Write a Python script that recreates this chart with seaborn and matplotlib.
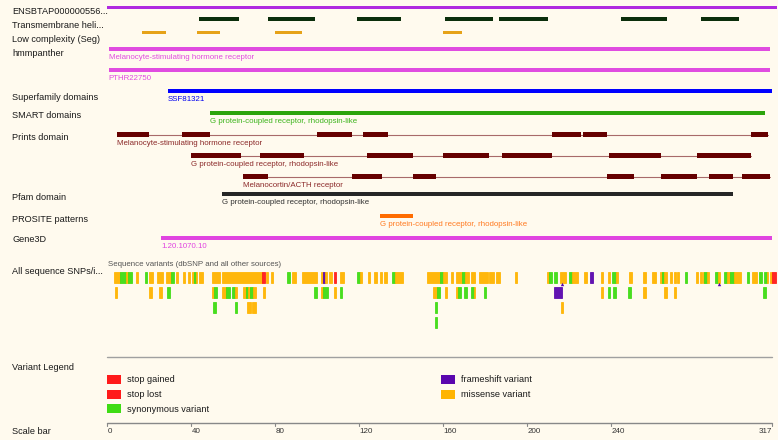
import matplotlib
matplotlib.use("Agg")
import matplotlib.pyplot as plt
from matplotlib.patches import Rectangle
import seaborn as sns

# ========== DATA (positions in residues) ==========
protein_len = 317
protein_name = "ENSBTAP000000556..."

tm_helices = [(44, 63), (77, 99), (119, 140), (161, 184), (187, 210), (245, 267), (283, 301)]
low_complexity = [(17, 28), (43, 54), (80, 93), (160, 169)]
hmmpanther = [(1, 316, "Melanocyte-stimulating hormone receptor"), (1, 316, "PTHR22750")]
superfamily = (29, 317, "SSF81321")
smart = (49, 313.5, "G protein-coupled receptor, rhodopsin-like")
prints_msh = [(5, 20), (36, 49), (100, 117), (122, 134), (212, 226), (227, 238), (307, 315)]
prints_gpcr = [(40, 64), (73, 94), (124, 146), (160, 182), (188, 212), (239, 264), (281, 307)]
prints_mc = [(65, 77), (117, 131), (146, 157), (238, 251), (264, 281), (287, 298), (302.5, 316)]
prints_names = ["Melanocyte-stimulating hormone receptor",
                "G protein-coupled receptor, rhodopsin-like",
                "Melanocortin/ACTH receptor"]
pfam = (55, 298, "G protein-coupled receptor, rhodopsin-like")
prosite = (130, 146, "G protein-coupled receptor, rhodopsin-like")
gene3d = (26, 317, "1.20.1070.10")

# variant segments: (start, end, kind)  M=missense S=synonymous G=stop gained F=frameshift
variants_row1 = [
    (3.5, 6.5, "M"), (6.5, 9, "S"), (9, 10, "M"), (10, 12, "S"), (14, 15, "M"), (18, 19, "S"),
    (20, 22, "M"), (24, 27, "M"), (28, 30.5, "M"), (30.5, 32, "S"), (33, 34, "M"),
    (36.5, 37.5, "M"), (38.7, 39.7, "M"), (40.6, 41.5, "M"), (41.5, 42.5, "S"), (42.5, 43, "M"),
    (44, 46, "M"), (50, 54, "M"), (55, 74, "M"), (74, 75.5, "G"), (76, 77, "M"), (78, 79, "M"),
    (86, 87.5, "S"), (88, 90, "M"), (93, 100, "M"), (102, 103, "M"), (103, 104, "F"),
    (104, 105, "M"), (106, 107.5, "M"), (108, 109, "G"), (111, 113, "M"), (119, 120.5, "S"),
    (120.5, 121.5, "M"), (124.5, 125.5, "M"), (127.5, 128.5, "M"), (130, 131, "M"),
    (132, 133.5, "M"), (136, 137.5, "S"), (137.5, 141, "M"), (152.5, 158.5, "M"),
    (158.5, 160, "S"), (160, 162, "M"), (164, 165, "M"), (166.5, 169, "M"), (169, 170.6, "S"),
    (170.6, 172.5, "M"), (173.5, 175.5, "M"), (177.5, 181.5, "M"), (182, 184.5, "M"),
    (185.5, 187.5, "M"), (194.5, 195.5, "M"), (209.5, 210.5, "M"), (210.5, 212, "S"),
    (213, 214.5, "S"), (216, 218.5, "M"), (220, 221.5, "S"), (221.5, 224.5, "M"),
    (227.5, 228.5, "M"), (230, 231.5, "F"), (235.5, 236.5, "M"), (238.5, 239.5, "M"),
    (240.5, 242.5, "S"), (242.5, 243.5, "M"), (248.5, 250, "M"), (255.5, 257, "M"),
    (259.5, 261.5, "M"), (263.5, 264.5, "M"), (264.5, 265.5, "S"), (265.5, 267, "M"),
    (268, 269, "M"), (270, 271, "M"), (271.5, 272.5, "M"), (275.5, 276.5, "S"),
    (280.5, 281.5, "M"), (282.5, 283.5, "M"), (284, 284.5, "M"), (284.5, 286, "S"),
    (286, 287, "M"), (289.5, 291, "S"), (291, 292, "M"), (294, 295.5, "S"), (295.5, 297, "M"),
    (297, 298.5, "S"), (298.5, 302, "M"), (305, 306, "S"), (307.5, 309.5, "M"),
    (310.5, 312, "S"), (313, 314.5, "S"), (314.5, 315, "M"), (316, 317, "M"), (317, 318.5, "G"),
]
variants_row2 = [
    (4, 5, "M"), (20, 21.5, "M"), (25, 26.5, "M"), (28.5, 30, "S"), (50, 51, "M"), (51, 52.5, "S"),
    (55, 57, "M"), (57, 58.5, "S"), (59.5, 61, "S"), (61, 62, "M"), (65, 66.5, "M"),
    (66.5, 67.5, "S"), (67.5, 68, "M"), (68, 69.5, "S"), (69.5, 71, "M"), (74.5, 75.5, "M"),
    (98.5, 100, "S"), (102, 103, "M"), (103, 105.5, "S"), (108, 109, "M"), (111, 112, "S"),
    (155.5, 157.5, "M"), (157.5, 158.5, "S"), (161, 162, "M"), (166.5, 167.5, "M"),
    (167.5, 168.5, "S"), (170, 171.5, "S"), (173.5, 175, "S"), (175, 175.5, "M"),
    (179.5, 180.5, "S"), (213, 217, "F"), (235.5, 236.5, "M"), (238.5, 239.5, "S"),
    (241, 242.5, "S"), (248, 249.5, "S"), (255.5, 257, "M"), (265.5, 267, "M"),
    (270, 271, "M"), (312.5, 314, "S"),
]
variants_row3 = [(50.5, 52, "S"), (61, 62, "S"), (67, 68.5, "M"), (69, 71, "M"),
                 (156.5, 157.5, "S"), (216.5, 217.5, "M")]
variants_row4 = [(156.5, 157.5, "S")]
insertions = [216.8, 291.6]

legend_left = [("stop gained", "G"), ("stop lost", "L"), ("synonymous variant", "S")]
legend_right = [("frameshift variant", "F"), ("missense variant", "M")]
scale_ticks = [0, 40, 80, 120, 160, 200, 240, 317]

# ========== STYLE ==========
variant_colors = {"M": "#ffb400", "S": "#3fdc14", "G": "#ff1a1a", "L": "#ff1a1a", "F": "#5a06ae"}
bg = "#fffaee"
sns.set_theme(style="white")
plt.rcParams["font.family"] = ["Liberation Sans", "DejaVu Sans"]

fig = plt.figure(figsize=(7.78, 4.40), dpi=100, facecolor=bg)
ax = fig.add_axes([0, 0, 1, 1])
ax.set_facecolor(bg)
# x in residues (0 at px 106.7, 2.1 px per residue), y in pixels
px0, ppr = 106.7, 2.1
ax.set_xlim(-px0 / ppr, (778 - px0) / ppr)
ax.set_ylim(440, 0)
ax.axis("off")

label_x = (12 - px0) / ppr
lab_fs = 6.6
feat_fs = 5.65


def track_label(y, text):
    ax.text(label_x, y, text, fontsize=lab_fs, color="#1a1a1a", va="center", ha="left")


def bars(spans, y, h, color):
    ax.broken_barh([(s, e - s) for s, e in spans], (y - h / 2, h), facecolors=color, lw=0,
                   zorder=3)


def feat_text(x, y, text, color):
    ax.text(x, y, text, fontsize=feat_fs, color=color, va="center", ha="left")


track_label(12, protein_name)
bars([(0, 319)], 7.5, 3.6, "#b02ae0")

track_label(25, "Transmembrane heli...")
bars(tm_helices, 19.3, 3.8, "#0b2e0b")

track_label(40, "Low complexity (Seg)")
bars(low_complexity, 32.3, 3.2, "#e6a218")

track_label(54, "hmmpanther")
for (s, e, name), y in zip(hmmpanther, [49.3, 70.3]):
    bars([(s, e)], y, 3.6, "#e04ce0")
    feat_text(s, y + 8, name, "#e04ce0")

track_label(97, "Superfamily domains")
bars([superfamily[:2]], 91, 3.6, "#0000ff")
feat_text(superfamily[0], 99.5, superfamily[2], "#0000ee")

track_label(116, "SMART domains")
bars([smart[:2]], 113.3, 3.6, "#2ca40c")
feat_text(smart[0], 121.5, smart[2], "#3cb41c")

track_label(138, "Prints domain")
for spans, y, name in zip([prints_msh, prints_gpcr, prints_mc], [135, 156, 177], prints_names):
    ax.plot([spans[0][0], spans[-1][1]], [y, y], color="#a86a6a", lw=0.8, zorder=2)
    bars(spans, y, 5, "#660000")
    feat_text(spans[0][0], y + 8.5, name, "#8c2a2a")

track_label(197, "Pfam domain")
bars([pfam[:2]], 194, 4.6, "#262626")
feat_text(pfam[0], 202.5, pfam[2], "#333333")

track_label(220, "PROSITE patterns")
bars([prosite[:2]], 215.7, 3.8, "#ff6c00")
feat_text(prosite[0], 224.5, prosite[2], "#ff7a20")

track_label(239, "Gene3D")
bars([gene3d[:2]], 238, 3.6, "#e044e0")
feat_text(gene3d[0], 246.5, gene3d[2], "#e044e0")

track_label(272, "All sequence SNPs/i...")
feat_text(0.5, 265, "Sequence variants (dbSNP and all other sources)", "#555555")
for row, y in zip([variants_row1, variants_row2, variants_row3, variants_row4],
                  [277.8, 292.2, 307.2, 322.2]):
    for s, e, kind in row:
        c = variant_colors[kind]
        ax.add_patch(Rectangle((s, y - 5.5), e - s, 11, facecolor=c, edgecolor=c,
                               lw=0.6, alpha=0.95))
ax.scatter(insertions, [284.5, 284.5], marker="^", s=6, color="#5a06ae", lw=0, zorder=3)

# legend
ax.plot([0, protein_len], [357, 357], color="#a0a0a0", lw=1)
track_label(367, "Variant Legend")
for col_x, items in [(0, legend_left), ((441 - px0) / ppr, legend_right)]:
    for i, (name, kind) in enumerate(items):
        y = 380 + i * 14.5
        ax.add_patch(Rectangle((col_x, y - 4.5), 14 / ppr, 9, facecolor=variant_colors[kind], lw=0))
        ax.text(col_x + 20 / ppr, y, name, fontsize=lab_fs, color="#1a1a1a", va="center")

# scale bar
track_label(431, "Scale bar")
ax.plot([0, protein_len], [423, 423], color="#888888", lw=1)
for t in scale_ticks:
    ax.plot([t, t], [423, 426.5], color="#888888", lw=0.8)
    ha = "right" if t == protein_len else "left"
    off = -0.3 if t == protein_len else 0.5
    ax.text(t + off, 431.5, str(t), fontsize=5.8, color="#333333", va="center", ha=ha)

fig.savefig("out.png", dpi=100, facecolor=bg)
